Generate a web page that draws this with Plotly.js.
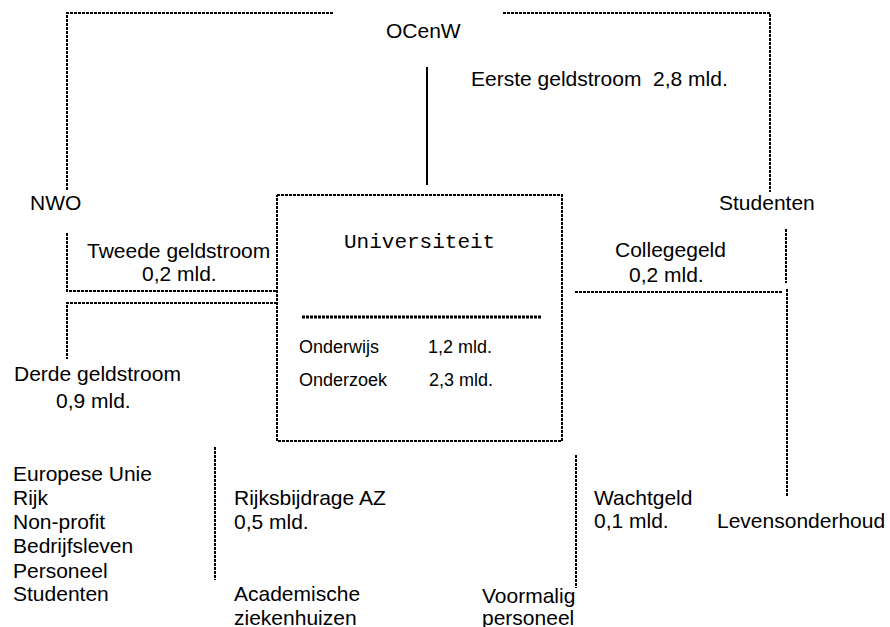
<!DOCTYPE html>
<html>
<head>
<meta charset="utf-8">
<script src="https://cdn.plot.ly/plotly-3.0.1.min.js"></script>
<style>html,body{margin:0;padding:0;background:#fff;}#chart{width:890px;height:627px;}</style>
</head>
<body>
<div id="chart"></div>
<script>
// Flow labels (text, x, y, anchor)
const labelText = [
  "OCenW", "Eerste geldstroom\u00a0\u00a02,8 mld.", "NWO", "Studenten",
  "Tweede geldstroom", "0,2 mld.", "Collegegeld", "0,2 mld.",
  "Derde geldstroom", "0,9 mld.",
  "Europese Unie", "Rijk", "Non-profit", "Bedrijfsleven", "Personeel", "Studenten",
  "Rijksbijdrage AZ", "0,5 mld.", "Academische", "ziekenhuizen",
  "Wachtgeld", "0,1 mld.", "Levensonderhoud", "Voormalig", "personeel"
];
const labelX = [423, 470, 29, 718, 178, 179, 670, 666, 13, 55, 12, 12, 12, 12, 12, 12, 233, 233, 233, 233, 593, 593, 716, 481, 481];
const labelY = [30, 78, 202, 202, 250, 273, 249, 274, 373, 400, 473, 497, 521, 545, 570, 593, 497, 521, 593, 617, 497, 520, 520, 595, 617];
const labelAnchor = ["center", "left", "left", "left", "center", "center", "center", "center", "left", "left",
  "left", "left", "left", "left", "left", "left", "left", "left", "left", "left", "left", "left", "left", "left", "left"];

// Inside the university box
const boxTitle = "Universiteit";
const boxTitleX = 419, boxTitleY = 242;
const boxRows = ["Onderwijs", "Onderzoek"];
const boxValues = ["1,2 mld.", "2,3 mld."];
const boxRowX = [298, 298];
const boxValueX = [427, 428];
const boxRowY = [347, 380];

// Dashed connectors (polylines, separated by null)
const dashX = [333, 67, 67, null, 503, 770, 770, null, 277, 562, 562, 277, 277, null,
  67, 67, 277, null, 277, 67, 67, null, 215, 215, null, 786, 786, null, 575, 783, null, 787, 787, null, 576, 576];
const dashY = [13, 13, 190, null, 13, 13, 192, null, 195, 195, 441, 441, 195, null,
  233, 291, 291, null, 303, 303, 359, null, 447, 580, null, 229, 283, null, 292, 292, null, 289, 496, null, 455, 588];
// Dotted divider inside box
const dotX = [302, 542];
const dotY = [317, 317];
// Solid line from OCenW
const solidX = [427, 427];
const solidY = [67, 185];

const FONT = "Liberation Sans, Arial, sans-serif";
const traces = [
  {x: dashX, y: dashY, mode: "lines", line: {color: "#000", width: 2, dash: "3px,1px"}, hoverinfo: "skip", connectgaps: false},
  {x: dotX, y: dotY, mode: "lines", line: {color: "#000", width: 3, dash: "3px,1px"}, hoverinfo: "skip"},
  {x: solidX, y: solidY, mode: "lines", line: {color: "#000", width: 2}, hoverinfo: "skip"}
];

const annotations = [];
labelText.forEach((t, i) => {
  annotations.push({x: labelX[i], y: labelY[i], xref: "x", yref: "y", text: t, showarrow: false,
    xanchor: labelAnchor[i], yanchor: "middle", borderpad: 0,
    font: {family: FONT, size: 21, color: "#000"}});
});
annotations.push({x: boxTitleX, y: boxTitleY, xref: "x", yref: "y", text: boxTitle, showarrow: false,
  xanchor: "center", yanchor: "middle", borderpad: 0,
  font: {family: "Courier New, Liberation Mono, monospace", size: 21, color: "#000"}});
boxRows.forEach((t, i) => {
  annotations.push({x: boxRowX[i], y: boxRowY[i], xref: "x", yref: "y", text: t, showarrow: false,
    xanchor: "left", yanchor: "middle", borderpad: 0, font: {family: FONT, size: 18, color: "#000"}});
  annotations.push({x: boxValueX[i], y: boxRowY[i], xref: "x", yref: "y", text: boxValues[i], showarrow: false,
    xanchor: "left", yanchor: "middle", borderpad: 0, font: {family: FONT, size: 18, color: "#000"}});
});

const layout = {
  width: 890, height: 627,
  margin: {l: 0, r: 0, t: 0, b: 0, pad: 0},
  paper_bgcolor: "#fff", plot_bgcolor: "#fff",
  showlegend: false,
  xaxis: {range: [0, 890], visible: false, fixedrange: true},
  yaxis: {range: [627, 0], visible: false, fixedrange: true},
  annotations: annotations
};
Plotly.newPlot("chart", traces, layout, {staticPlot: true, displayModeBar: false});
</script>
</body>
</html>
